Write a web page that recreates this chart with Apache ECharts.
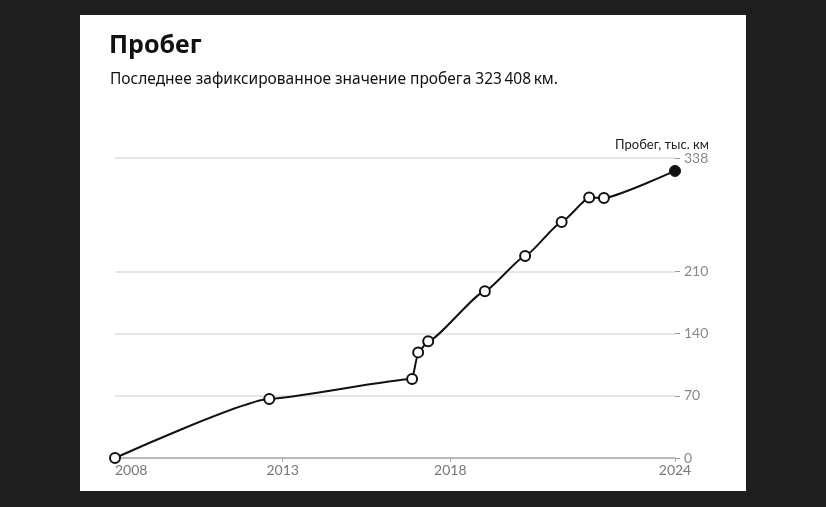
<!DOCTYPE html>
<html>
<head>
<meta charset="utf-8">
<script src="https://cdn.jsdelivr.net/npm/echarts@6/dist/echarts.min.js"></script>
<style>
  html, body { margin: 0; padding: 0; background: #1e1e1e; width: 826px; height: 507px; overflow: hidden; }
  #card { position: absolute; left: 80px; top: 15px; width: 666px; height: 476px; background: #fff; }
  #chart { position: absolute; left: 0; top: 0; width: 826px; height: 507px; }
</style>
</head>
<body>
<div id="card"></div>
<div id="chart"></div>
<script>
// Decimal years of each recorded mileage reading
const years = [2008.0, 2012.60, 2016.86, 2017.04, 2017.34, 2019.03, 2020.23, 2021.32, 2022.14, 2022.58, 2024.70];
// Mileage, thousand km
const mileage = [0, 66.4, 88.9, 119.0, 131.5, 188.0, 227.7, 266.0, 293.4, 293.0, 323.408];
const yTicks = [0, 70, 140, 210, 338];
const xTicks = [2008.0, 2013, 2018, 2024.70];
const titleText = 'Пробег';
const subtitleText = 'Последнее зафиксированное значение пробега 323\u2009408\u2009км.';
const yName = 'Пробег, тыс. км';

const points = years.map((y, i) => {
  const last = i === years.length - 1;
  return {
    value: [y, mileage[i]],
    symbolSize: last ? 11 : 10,
    itemStyle: last ? { color: '#111', borderColor: '#111', borderWidth: 1 } : { color: '#fff', borderColor: '#111', borderWidth: 2 }
  };
});

const chart = echarts.init(document.getElementById('chart'), null, { renderer: 'canvas' });
chart.setOption({
  animation: false,
  backgroundColor: 'transparent',
  textStyle: { fontFamily: 'Lato, "Noto Sans", sans-serif' },
  title: [
    { text: titleText, left: 104, top: 28, textStyle: { fontFamily: '"Noto Sans", sans-serif', fontSize: 25, fontWeight: 'bold', color: '#111' } },
    { text: subtitleText, left: 105, top: 67, textStyle: { fontFamily: '"Noto Sans", sans-serif', fontSize: 15.5, fontWeight: 'normal', color: '#111' } }
  ],
  graphic: [
    { type: 'text', right: 826 - 709, top: 138, style: { text: yName, fill: '#222', font: '13px Lato, "Noto Sans", sans-serif', textAlign: 'right' } }
  ],
  grid: { left: 115, right: 151, top: 158, bottom: 49, containLabel: false },
  xAxis: {
    type: 'value',
    min: xTicks[0],
    max: xTicks[xTicks.length - 1],
    axisLine: { show: true, lineStyle: { color: '#aaa', width: 1.5 } },
    axisTick: { show: true, length: 4, lineStyle: { color: '#aaa' }, customValues: xTicks.slice(1) },
    axisLabel: {
      customValues: xTicks,
      formatter: v => String(Math.floor(v + 1e-6)),
      color: '#777', fontSize: 14, margin: 5,
      alignMinLabel: 'left'
    },
    splitLine: { show: false }
  },
  yAxis: {
    type: 'value',
    position: 'right',
    min: 0,
    max: yTicks[yTicks.length - 1],
    axisLine: { show: false },
    axisTick: { show: true, length: 5, lineStyle: { color: '#999' }, customValues: yTicks },
    axisLabel: { customValues: yTicks, color: '#888', fontSize: 14, margin: 9 },
    splitLine: { show: true, lineStyle: { color: '#e6e6e6', width: 2 } }
  },
  series: [{
    type: 'line',
    data: points,
    smooth: 0.15,
    smoothMonotone: 'x',
    symbol: 'circle',
    lineStyle: { color: '#111', width: 2 },
    z: 5
  }]
});
</script>
</body>
</html>
